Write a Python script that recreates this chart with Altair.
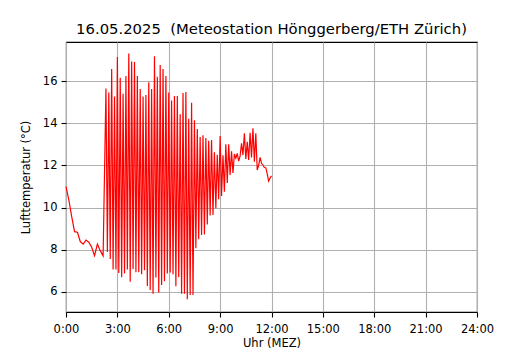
import altair as alt
import pandas as pd

# 0:00 - 2:10, every 10 minutes
night_temps = [10.99, 10.36, 9.57, 8.86, 8.83, 8.39, 8.27, 8.46, 8.36, 8.12, 7.72, 8.27, 7.96, 7.71]

# 2:20 - 9:40 : peaks (at hh:m0) and troughs (at hh:m5)
osc_peaks = [15.64, 15.45, 16.57, 15.27, 17.14, 16.16, 15.40, 16.24, 17.31, 16.93,
             16.90, 16.24, 15.62, 15.27, 15.34, 15.94, 15.62, 17.18, 16.20, 16.76,
             16.57, 16.24, 15.46, 15.08, 15.29, 15.29, 14.42, 15.43, 15.48, 14.21,
             14.97, 14.14, 13.72, 13.35, 13.43, 13.30, 13.17, 13.20, 12.62, 12.50,
             13.39, 12.48, 13.00, 13.00, 12.67]
osc_troughs = [7.90, 7.56, 7.07, 7.06, 6.90, 6.70, 6.88, 7.06, 6.49, 7.09,
               6.93, 6.93, 6.84, 7.03, 6.28, 6.09, 5.92, 6.68, 5.97, 6.33,
               6.51, 6.87, 6.92, 6.84, 6.27, 6.71, 5.92, 5.91, 5.65, 5.86,
               5.86, 8.07, 8.50, 8.70, 8.73, 9.20, 9.62, 9.65, 9.97, 10.40,
               10.55, 10.75, 11.17, 11.55, 11.64]

# 9:50 - 12:00, every 5 minutes
tail_temps = [12.54, 12.34, 12.57, 12.20, 12.45, 13.05, 12.49, 13.52, 12.30, 13.12,
              12.26, 13.55, 12.38, 13.76, 12.18, 13.52, 11.78, 12.00, 12.38, 12.10,
              12.02, 11.90, 11.89, 11.60, 11.26, 11.40, 11.50]

x_ticks = [0, 180, 360, 540, 720, 900, 1080, 1260, 1440]
y_ticks = [6, 8, 10, 12, 14, 16]

times, temps = [], []
for i, v in enumerate(night_temps):
    times.append(10 * i); temps.append(v)
for k, (p, tr) in enumerate(zip(osc_peaks, osc_troughs)):
    times.append(140 + 10 * k); temps.append(p)
    times.append(145 + 10 * k); temps.append(tr)
for i, v in enumerate(tail_temps):
    times.append(590 + 5 * i); temps.append(v)

df = pd.DataFrame({"t": times, "temp": temps})

FONT = "DejaVu Sans"

chart = alt.Chart(df).mark_line(color="red", strokeWidth=1.2).encode(
    x=alt.X("t:Q",
            scale=alt.Scale(domain=[0, 1440], nice=False, zero=False),
            axis=alt.Axis(values=x_ticks, title="Uhr (MEZ)",
                          labelExpr="floor(datum.value/60) + ':00'",
                          labelFlush=False, labelPadding=6,
                          titlePadding=3)),
    y=alt.Y("temp:Q",
            scale=alt.Scale(domain=[5.05, 17.85], nice=False, zero=False),
            axis=alt.Axis(values=y_ticks, title="Lufttemperatur (°C)",
                          labelFlush=False, labelPadding=4, titlePadding=11)),
).properties(
    width=411, height=270,
    title=alt.TitleParams("16.05.2025 \u00a0(Meteostation Hönggerberg/ETH Zürich)",
                          font=FONT, fontSize=14.8, fontWeight="normal",
                          color="black", anchor="middle", offset=5),
    autosize=alt.AutoSizeParams(type="none"),
    padding={"left": 58, "top": 34, "right": 45, "bottom": 44},
).configure_view(
    stroke="black", strokeWidth=1.1
).configure_axis(
    domain=False,
    grid=True, gridColor="#b0b0b0", gridWidth=1.1,
    ticks=True, tickColor="black", tickSize=5, tickWidth=1.1,
    labelFont=FONT, labelFontSize=11.5, labelColor="black",
    titleFont=FONT, titleFontSize=11.5, titleFontWeight="normal", titleColor="black",
)

chart.save("out.html", embed_options={"renderer": "svg", "actions": False})
